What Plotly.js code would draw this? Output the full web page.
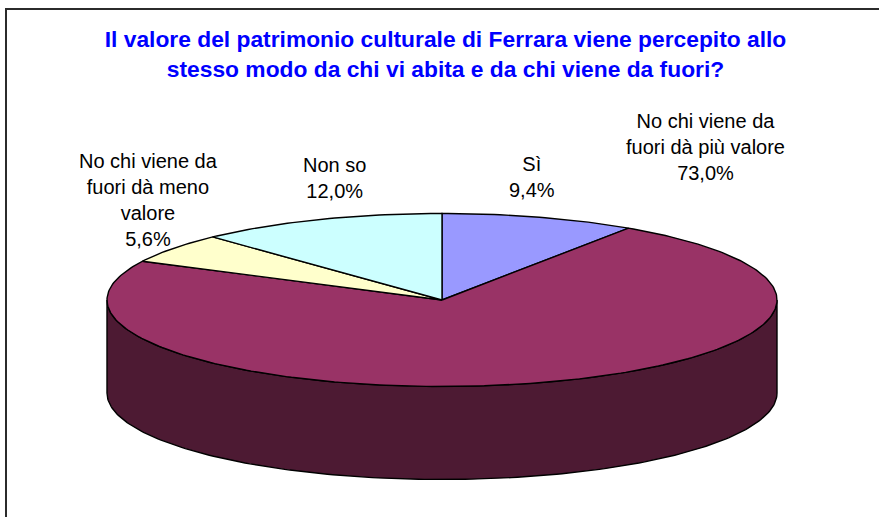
<!DOCTYPE html>
<html>
<head>
<meta charset="utf-8">
<script src="https://cdn.plot.ly/plotly-3.0.1.min.js"></script>
<style>html,body{margin:0;padding:0;background:#fff;}#chart{width:879px;height:517px;}</style>
</head>
<body>
<div id="chart"></div>
<script>
// ---- data ----
const categories = ["Sì", "No chi viene da fuori dà più valore", "No chi viene da fuori dà meno valore", "Non so"];
const values = [9.4, 73.0, 5.6, 12.0];
const labelText = ["Sì", "No chi viene da<br>fuori dà più valore", "No chi viene da<br>fuori dà meno<br>valore", "Non so"];
const topColors = ["#9999FF", "#993366", "#FFFFCC", "#CCFFFF"];
const sideColors = ["#4D4D80", "#4D1A33", "#808066", "#668080"];
const titleText = "Il valore del patrimonio culturale di Ferrara viene percepito allo<br>stesso modo da chi vi abita e da chi viene da fuori?";

// ---- layout geometry (3D pie projection) ----
const cx = 442, cy = 300, rx = 335, ry = 86.5, depth = 93;
const labelPos = [[532, 177], [705, 146.5], [148, 199.5], [334, 178]];

function pt(deg, dy) {
  const r = deg * Math.PI / 180;
  return [cx + rx * Math.sin(r), cy - ry * Math.cos(r) + (dy || 0)];
}
function arc(a, b, dy) {
  const xs = [], ys = [];
  const n = Math.max(2, Math.ceil(Math.abs(b - a)));
  for (let i = 0; i <= n; i++) {
    const p = pt(a + (b - a) * i / n, dy);
    xs.push(p[0]); ys.push(p[1]);
  }
  return [xs, ys];
}

const total = values.reduce((s, v) => s + v, 0);
const bounds = [];
let acc = 0;
values.forEach(v => { const a = acc / total * 360; acc += v; bounds.push([a, acc / total * 360]); });

const traces = [];
// side walls (front half, 90..270 deg)
bounds.forEach((b, i) => {
  const s = Math.max(b[0], 90), e = Math.min(b[1], 270);
  if (s < e) {
    const top = arc(s, e, 0), bot = arc(e, s, depth);
    traces.push({
      type: "scatter", mode: "lines", x: top[0].concat(bot[0], [top[0][0]]), y: top[1].concat(bot[1], [top[1][0]]),
      fill: "toself", fillcolor: sideColors[i], line: {color: "#000", width: 1.4}, hoverinfo: "skip", showlegend: false
    });
  }
});
// top faces
bounds.forEach((b, i) => {
  const a = arc(b[0], b[1], 0);
  traces.push({
    type: "scatter", mode: "lines", name: categories[i],
    x: [cx].concat(a[0], [cx]), y: [cy].concat(a[1], [cy]),
    fill: "toself", fillcolor: topColors[i], line: {color: "#000", width: 1.4}, hoverinfo: "skip", showlegend: false
  });
});

const annotations = values.map((v, i) => ({
  x: labelPos[i][0], y: labelPos[i][1], xref: "x", yref: "y",
  text: labelText[i] + "<br>" + v.toFixed(1).replace(".", ",") + "%",
  showarrow: false, xanchor: "center", yanchor: "middle", align: "center",
  font: {family: "Arial, 'Liberation Sans', sans-serif", size: 20, color: "#000"}
}));

const layout = {
  width: 879, height: 517,
  margin: {l: 0, r: 0, t: 0, b: 0},
  paper_bgcolor: "#fff", plot_bgcolor: "#fff",
  title: {
    text: titleText, x: 445.5 / 879, xanchor: "center", xref: "container",
    y: 1 - 47 / 517, yanchor: "top", yref: "container",
    font: {family: "Arial, 'Liberation Sans', sans-serif", size: 22.8, color: "#0000FF", weight: "bold"}
  },
  xaxis: {range: [0, 879], visible: false, fixedrange: true},
  yaxis: {range: [517, 0], visible: false, fixedrange: true},
  showlegend: false,
  annotations: annotations,
  shapes: [{type: "rect", xref: "x", yref: "y", x0: 6, y0: 9, x1: 900, y1: 540, line: {color: "#2b2b2b", width: 2}, layer: "below"}]
};

Plotly.newPlot("chart", traces, layout, {staticPlot: true, displayModeBar: false});
</script>
</body>
</html>
